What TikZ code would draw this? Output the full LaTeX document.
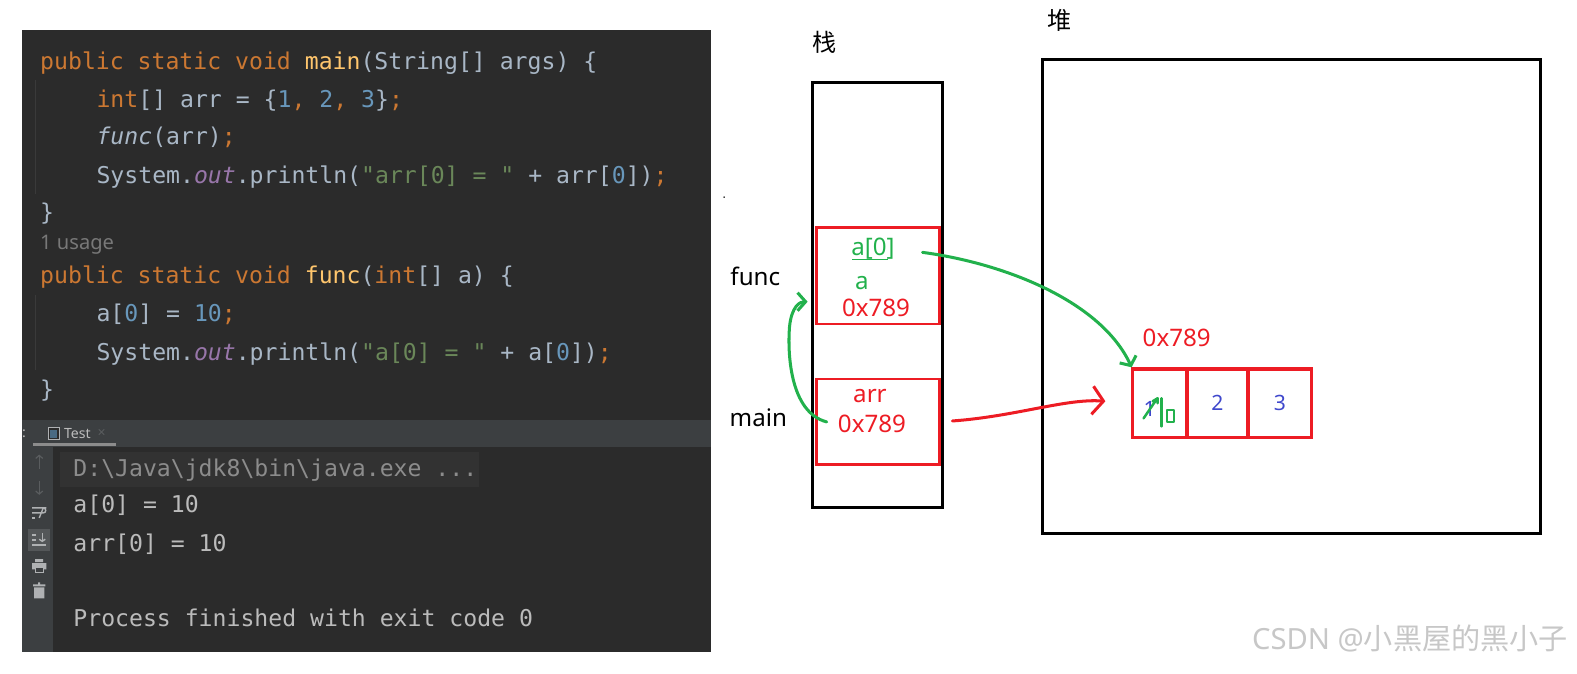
\documentclass[tikz,border=0pt]{standalone}
\usepackage{fontspec}
\setmainfont{Noto Sans}
\newfontfamily\cjkfont{Noto Sans CJK SC}
\newfontfamily\codefont{DejaVu Sans Mono}
\usetikzlibrary{arrows.meta,positioning}

\definecolor{ideBg}{HTML}{2B2B2B}
\definecolor{ideBar}{HTML}{3C3F41}
\definecolor{ideGuide}{HTML}{3A3A3A}
\definecolor{ideText}{HTML}{A9B7C6}
\definecolor{ideKey}{HTML}{CC7832}
\definecolor{ideFn}{HTML}{FFC66D}
\definecolor{ideNum}{HTML}{6897BB}
\definecolor{ideStr}{HTML}{6A8759}
\definecolor{ideFld}{HTML}{9876AA}
\definecolor{ideHint}{HTML}{787878}
\definecolor{conText}{HTML}{BBBBBB}
\definecolor{conGrey}{HTML}{8C8C8C}
\definecolor{conHi}{HTML}{323232}
\definecolor{conIcon}{HTML}{AFB1B3}
\definecolor{conOff}{HTML}{5A5D5F}
\definecolor{penRed}{HTML}{ED1C24}
\definecolor{penGreen}{HTML}{22B14C}
\definecolor{penBlue}{HTML}{3F48CC}

\newcommand{\jkw}[1]{\textcolor{ideKey}{#1}}
\newcommand{\jfn}[1]{\textcolor{ideFn}{#1}}
\newcommand{\jnum}[1]{\textcolor{ideNum}{#1}}
\newcommand{\jstr}[1]{\textcolor{ideStr}{#1}}
\newcommand{\jfld}[1]{\textcolor{ideFld}{\itshape #1}}

\begin{document}
\begin{tikzpicture}[x=1pt, y=-1pt,
  every node/.style={inner sep=0pt, outer sep=0pt},
  codeline/.style={anchor=base west, font=\codefont\fontsize{23}{28}\selectfont, text=ideText},
  conline/.style={anchor=base west, font=\codefont\fontsize{23}{28}\selectfont, text=conText},
  pentext/.style={anchor=base, font=\fontsize{24}{28}\selectfont},
  memory/.style={draw, line width=3pt, anchor=north west},
  varbox/.style={draw=penRed, line width=2.6pt, anchor=north west, minimum width=122pt},
  cell/.style={draw=penRed, line width=3.5pt, minimum height=68pt, text=penBlue, font=\fontsize{21}{24}\selectfont},
  greenpen/.style={penGreen, line width=3pt, line cap=round, line join=round},
  redpen/.style={penRed, line width=3pt, line cap=round, line join=round}]
  \useasboundingbox (0,0) rectangle (1568,670);

  % editor
  \fill[ideBg] (22,30) rectangle (707,418);
  \draw[ideGuide, line width=1pt] (35,80) -- (35,193) (35,293) -- (35,368);
  \node[codeline] (l1) at (40,69) {\jkw{public static void} \jfn{main}(String[] args) \{};
  \node[codeline] (l2) at (96,107) {\jkw{int}[] arr = \{\jnum{1}\jkw{,} \jnum{2}\jkw{,} \jnum{3}\}\jkw{;}};
  \node[codeline] (l3) at (96,144) {{\itshape func}(arr)\jkw{;}};
  \node[codeline] (l4) at (96,182) {System.\jfld{out}.println(\jstr{"arr[0] = "} + arr[\jnum{0}])\jkw{;}};
  \node[codeline] (l5) at (40,219) {\}};
  \node[anchor=base west, font=\fontsize{20}{24}\selectfont, text=ideHint] (hint) at (40,248) {1 usage};
  \node[codeline] (l7) at (40,282) {\jkw{public static void} \jfn{func}(\jkw{int}[] a) \{};
  \node[codeline] (l8) at (96,320) {a[\jnum{0}] = \jnum{10}\jkw{;}};
  \node[codeline] (l9) at (96,358) {System.\jfld{out}.println(\jstr{"a[0] = "} + a[\jnum{0}])\jkw{;}};
  \node[codeline] (l10) at (40,395) {\}};

  % console
  \fill[ideBar] (22,418) rectangle (707,444);
  \fill[ideBar] (22,444) rectangle (53,648);
  \fill[ideBg] (53,444) rectangle (707,648);
  \node[anchor=west, text=conText, font=\fontsize{14}{16}\selectfont] (colon) at (22,431) {:};
  \draw[conIcon, line width=1pt, fill=ideBg] (48,425) rectangle (59,437);
  \fill[ideNum!70!black] (50,428) rectangle (57,435);
  \node[text=conText, font=\fontsize{14}{16}\selectfont] (tab) at (77,431) {Test};
  \node[text=conOff, font=\fontsize{14}{16}\selectfont] (tabx) at (101,431) {×};
  \draw[conGrey, line width=3pt] (33,442) -- (115,442);
  \fill[conHi] (60,449) rectangle (476,484);
  \node[conline, text=conGrey] (cmd) at (73,474) {D:\textbackslash Java\textbackslash jdk8\textbackslash bin\textbackslash java.exe ...};
  \node[conline] (out1) at (73,510) {a[0] = 10};
  \node[conline] (out2) at (73,548) {arr[0] = 10};
  \node[conline] (done) at (73,623) {Process finished with exit code 0};
  % gutter icons
  \draw[conOff, line width=1.2pt, -{Straight Barb[length=3pt,width=7pt]}] (39,466) -- (39,452);
  \draw[conOff, line width=1.2pt, -{Straight Barb[length=3pt,width=7pt]}] (39,478) -- (39,492);
  \draw[conIcon, line width=1.4pt] (32,505) -- (46,505) (32,510) -- (43,510) arc[start angle=90, end angle=-90, radius=2.5] -- (39,515);
  \draw[conIcon, line width=1.4pt] (32,515) -- (35,515);
  \fill[conOff!80!ideBar] (28,526) rectangle (50,548);
  \draw[conIcon, line width=1.4pt] (32,532) -- (36,532) (32,537) -- (36,537) (32,542) -- (46,542);
  \draw[conIcon, line width=1.4pt, -{Straight Barb[length=2pt,width=6pt]}] (42,530) -- (42,539);
  \fill[conIcon] (35,556) rectangle (43,559) (32,560) rectangle (46,566);
  \draw[conIcon, line width=1.2pt, fill=ideBar] (35,564) rectangle (43,569);
  \fill[conIcon] (38,579) rectangle (40,581) (33,581) rectangle (45,583) (34,584) rectangle (44,595);

  % stack and heap
  \node[font=\cjkfont\fontsize{24}{28}\selectfont] (stacklbl) at (820,42) {栈};
  \node[font=\cjkfont\fontsize{24}{28}\selectfont] (heaplbl) at (1054,20) {堆};
  \node[memory, minimum width=129pt, minimum height=423pt] (stack) at (808,82) {};
  \node[memory, minimum width=495pt, minimum height=471pt] (heap) at (1037,59) {};
  \fill (720,196) circle (0.8);

  % frames
  \node[varbox, minimum height=96pt] (funcfr) at (812,226) {};
  \node[varbox, minimum height=85pt] (mainfr) at (812,377) {};
  \node[pentext] (funclbl) at (751,284) {func};
  \node[pentext] (mainlbl) at (754,424) {main};
  \node[pentext, text=penGreen] (aidx) at (868,254) {a[0]};
  \draw[penGreen, line width=1.6pt] (aidx.base west) ++(1,4) -- ++(35,0);
  \node[pentext, text=penGreen] (aname) at (857,288) {a};
  \node[pentext, text=penRed] (aref) at (871,315) {0x789};
  \node[pentext, text=penRed] (arrname) at (865,400) {arr};
  \node[pentext, text=penRed] (arrref) at (867,430) {0x789};

  % array
  \node[cell, anchor=north west, minimum width=54pt] (cell1) at (1126,367) {};
  \node[cell, anchor=west, minimum width=61pt] (cell2) at (cell1.east) {2};
  \node[cell, anchor=west, minimum width=63pt] (cell3) at (cell2.east) {3};
  \node[pentext, text=penRed] (heapref) at (1170,345) {0x789};
  \node[anchor=base, text=penBlue, font=\fontsize{21}{24}\selectfont] (old) at (1143,414) {1};
  \draw[greenpen, line width=2.5pt] (1137,416) -- (1150,397) (1146,399) -- (1151,396) -- (1151,401);
  \draw[greenpen, line width=2.5pt] (1155,396) -- (1155,424);
  \draw[greenpen, line width=2pt] (1160,408) rectangle (1167,420);

  % arrows
  \draw[greenpen, -{Straight Barb[length=7pt,width=18pt]}, shorten <=28pt, shorten >=2pt]
    (aidx.east) .. controls (1000,262) and (1095,300) .. (cell1.north west);
  \draw[redpen, -{Straight Barb[length=11pt,width=28pt]}, shorten <=13pt, shorten >=27pt]
    (mainfr.east) .. controls (1010,414) and (1060,396) .. (cell1.west);
  \draw[greenpen, -{Straight Barb[length=8pt,width=18pt]}]
    ([xshift=10pt]mainfr.west) .. controls (785,410) and (783,350) .. (785,325)
    .. controls (787,305) and (795,300) .. ([xshift=-9pt,yshift=-26pt]funcfr.west);

  % watermark
  \node[text=black!22, font=\fontsize{29}{32}\selectfont] (mark) at (1402,635) {CSDN @{\cjkfont 小黑屋的黑小子}};
\end{tikzpicture}
\end{document}
